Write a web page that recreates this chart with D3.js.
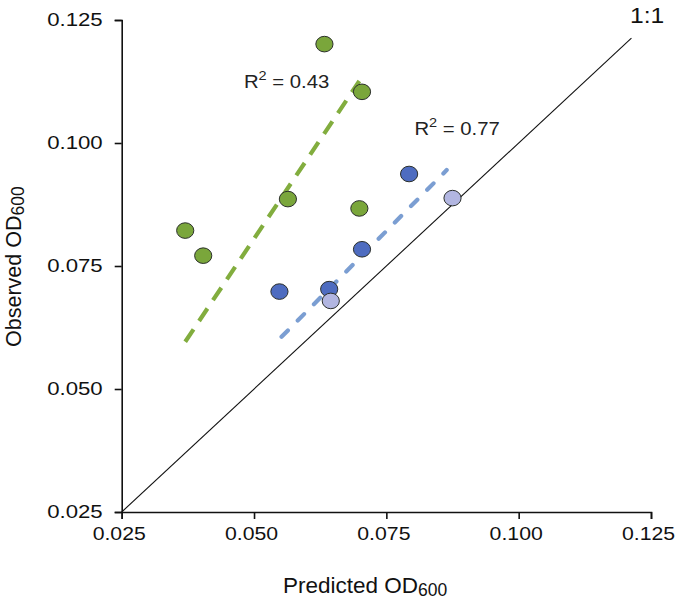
<!DOCTYPE html>
<html><head><meta charset="utf-8">
<script src="https://cdn.jsdelivr.net/npm/d3@7"></script>
<style>
body{margin:0;background:#fff;}
svg{display:block;font-family:"Liberation Sans",Arial,Helvetica,sans-serif;}
</style></head>
<body><svg id="c" width="677" height="602"></svg>
<script>
// Data
const xTicks = [0.025, 0.050, 0.075, 0.100, 0.125];
const yTicks = [0.025, 0.050, 0.075, 0.100, 0.125];
const greenPred = [0.0633, 0.0704, 0.0564, 0.0370, 0.0404, 0.0699];
const greenObs  = [0.1201, 0.1104, 0.0886, 0.0822, 0.0771, 0.0867];
const bluePred  = [0.0793, 0.0704, 0.0548, 0.0642];
const blueObs   = [0.0937, 0.0784, 0.0698, 0.0703];
const lightPred = [0.0875, 0.0645];
const lightObs  = [0.0888, 0.0679];
const greenFitX = [0.0370, 0.0699];
const greenFitY = [0.0596, 0.1126];
const blueFitX  = [0.0552, 0.0864];
const blueFitY  = [0.0606, 0.0945];
const oneToOne  = [0.025, 0.1213];
const r2Labels  = ["0.43", "0.77"];
const r2Pos     = [[0.0481, 0.1112], [0.0803, 0.1017]];

const svg = d3.select("#c");
const x = d3.scaleLinear().domain([0.025, 0.125]).range([121.7, 651]);
const y = d3.scaleLinear().domain([0.025, 0.125]).range([512, 20]);
const fmt = d3.format(".3f");

function stretch(sel, k){
  sel.each(function(){
    const L = this.getComputedTextLength();
    d3.select(this).attr("textLength", L*k).attr("lengthAdjust","spacingAndGlyphs");
  });
}

// axes
const gx = svg.append("g").attr("transform", `translate(0,${y(0.025)})`)
  .call(d3.axisBottom(x).tickValues(xTicks).tickFormat(fmt).tickSize(7).tickPadding(8));
const gy = svg.append("g").attr("transform", `translate(${x(0.025)},0)`)
  .call(d3.axisLeft(y).tickValues(yTicks).tickFormat(fmt).tickSize(7).tickPadding(12));
[gx, gy].forEach(g => {
  g.select(".domain").attr("stroke", "#111").attr("stroke-width", 1.6);
  g.selectAll(".tick line").attr("stroke", "#111").attr("stroke-width", 1.6);
  g.selectAll(".tick text").attr("font-size", 18.5).attr("fill", "#111")
    .attr("font-family", '"Liberation Sans",Arial,sans-serif');
});
gy.selectAll(".tick text").call(stretch, 1.2);
gx.selectAll(".tick text").attr("font-size", 18).attr("dx", -3).call(stretch, 1.18);

// 1:1 line
svg.append("line")
  .attr("x1", x(oneToOne[0])).attr("y1", y(oneToOne[0]))
  .attr("x2", x(oneToOne[1])).attr("y2", y(oneToOne[1]))
  .attr("stroke", "#111").attr("stroke-width", 1.1);
svg.append("text").attr("x", 630).attr("y", 22.5).attr("font-size", 22)
  .attr("fill", "#111").text("1:1").call(stretch, 1.12);

// fit lines
svg.append("line")
  .attr("x1", x(greenFitX[0])).attr("y1", y(greenFitY[0]))
  .attr("x2", x(greenFitX[1])).attr("y2", y(greenFitY[1]))
  .attr("stroke", "#82ad3e").attr("stroke-width", 4.2)
  .attr("stroke-dasharray", "15,10");
svg.append("line")
  .attr("x1", x(blueFitX[0])).attr("y1", y(blueFitY[0]))
  .attr("x2", x(blueFitX[1])).attr("y2", y(blueFitY[1]))
  .attr("stroke", "#7b9ed2").attr("stroke-width", 4.2)
  .attr("stroke-linecap", "round")
  .attr("stroke-dasharray", "9,14");

// points
function pts(px, py, fill){
  svg.append("g").selectAll("ellipse").data(px.map((v,i)=>[v,py[i]])).join("ellipse")
    .attr("cx", d=>x(d[0])).attr("cy", d=>y(d[1]))
    .attr("rx", 8.6).attr("ry", 7.8)
    .attr("fill", fill).attr("stroke", "#2b2f2b").attr("stroke-width", 1);
}
pts(greenPred, greenObs, "#7aa63b");
pts(bluePred, blueObs, "#4e6cc0");
pts(lightPred, lightObs, "#b2b6e1");

// R2 labels
r2Labels.forEach((v,i)=>{
  const t = svg.append("text").attr("x", x(r2Pos[i][0])).attr("y", y(r2Pos[i][1]))
    .attr("font-size", 17.5).attr("fill", "#222");
  t.append("tspan").text("R");
  t.append("tspan").attr("font-size", 12.5).attr("dy", -7.5).text("2");
  t.append("tspan").attr("dy", 7.5).text(" = " + v);
  t.call(stretch, 1.16);
});

// axis titles
const xt = svg.append("text").attr("x", 283).attr("y", 593).attr("font-size", 22.5).attr("fill", "#111");
xt.append("tspan").text("Predicted OD");
xt.append("tspan").attr("font-size", 17.5).attr("dy", 3).text("600");

const yt = svg.append("text").attr("transform", "translate(20.5,347) rotate(-90)")
  .attr("font-size", 21.5).attr("fill", "#111");
yt.append("tspan").text("Observed OD");
yt.append("tspan").attr("font-size", 17.5).attr("dy", 3).text("600");
</script></body></html>
